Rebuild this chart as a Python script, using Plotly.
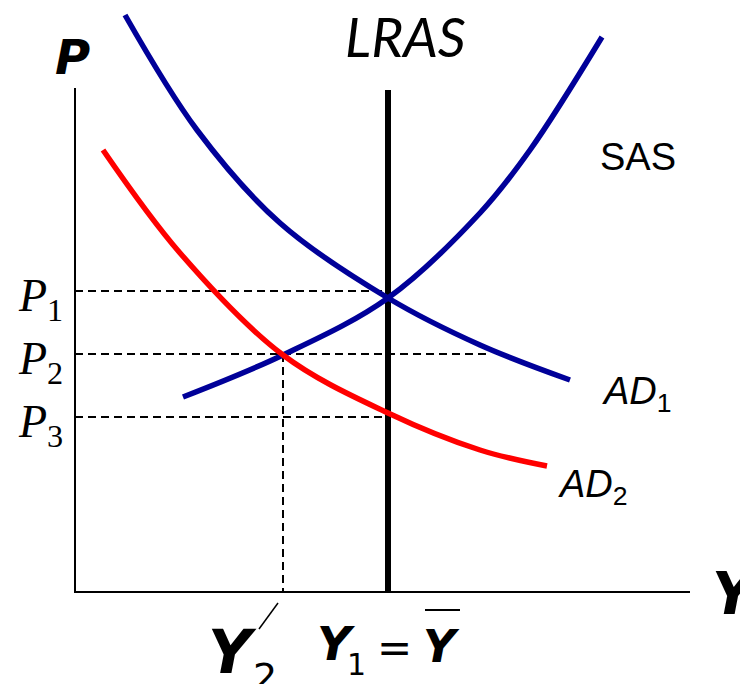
import plotly.graph_objects as go

# curves, in chart units (origin = axis corner)
ad1_x = [50, 122, 205, 313, 405, 495]
ad1_y = [577, 462, 369, 294, 247, 212]
sas_x = [108, 208, 313, 405, 455, 527]
sas_y = [195, 237, 294, 379, 442, 555]
ad2_x = [28, 105, 208, 313, 405, 472]
ad2_y = [442, 339, 237, 179, 142, 126]

y1 = 313          # potential output (LRAS)
y2 = 208
p_levels = [301, 238, 175]
p_labels = ["1", "2", "3"]
p_line_end = [313, 412, 313]
lras_top = 502
x_axis_end = 615
y_axis_top = 504

blue = "#000099"
red = "#ff0000"

fig = go.Figure()

# axes
fig.add_trace(go.Scatter(x=[0, 0, x_axis_end], y=[y_axis_top, 0, 0], mode="lines",
                         line=dict(color="black", width=2)))

# dashed guides
for p, xe in zip(p_levels, p_line_end):
    fig.add_trace(go.Scatter(x=[0, xe], y=[p, p], mode="lines",
                             line=dict(color="black", width=2, dash="8px,5px")))
fig.add_trace(go.Scatter(x=[y2, y2], y=[p_levels[1], 0], mode="lines",
                         line=dict(color="black", width=2, dash="8px,5px")))

# LRAS
fig.add_trace(go.Scatter(x=[y1, y1], y=[0, lras_top], mode="lines",
                         line=dict(color="black", width=6)))

fig.add_trace(go.Scatter(x=ad1_x, y=ad1_y, mode="lines", line=dict(color=blue, width=5.5, shape="spline")))
fig.add_trace(go.Scatter(x=sas_x, y=sas_y, mode="lines", line=dict(color=blue, width=5.5, shape="spline")))
fig.add_trace(go.Scatter(x=ad2_x, y=ad2_y, mode="lines", line=dict(color=red, width=5.5, shape="spline")))

# small slash next to Y2 and bar over Y
fig.add_trace(go.Scatter(x=[203, 184], y=[-11, -37], mode="lines", line=dict(color="black", width=1.5)))
fig.add_trace(go.Scatter(x=[350, 385], y=[-18, -18], mode="lines", line=dict(color="black", width=2)))

bold = "DejaVu Sans"
anns = [
    dict(x=330, y=556, text="<i>LRAS</i>", font=dict(family="Lato", size=55)),
    dict(x=-3, y=535, text="<b><i>P</i></b>", font=dict(family=bold, size=48)),
    dict(x=635, y=-2, text="<b><i>Y</i></b>", font=dict(family=bold, size=58), xanchor="left"),
    dict(x=563, y=435, text="SAS", font=dict(family="Liberation Sans", size=38)),
    dict(x=525, y=198, text="<i>AD</i><sub>1</sub>", font=dict(family="Liberation Sans", size=38), xanchor="left"),
    dict(x=481, y=105, text="<i>AD</i><sub>2</sub>", font=dict(family="Liberation Sans", size=38), xanchor="left"),
    dict(x=157, y=-60, text="<b><i>Y</i></b>", font=dict(family=bold, size=60)),
    dict(x=190, y=-85, text="2", font=dict(family="DejaVu Sans", size=38)),
    dict(x=261, y=-51, text="<b><i>Y</i></b>", font=dict(family=bold, size=47)),
    dict(x=281, y=-72, text="1", font=dict(family="DejaVu Sans", size=30)),
    dict(x=319, y=-55, text="=", font=dict(family="DejaVu Sans", size=42)),
    dict(x=366, y=-54, text="<b><i>Y</i></b>", font=dict(family=bold, size=45)),
]
for p, lab in zip(p_levels, p_labels):
    anns.append(dict(x=-10, y=p - 8, text="<i>P</i><sub>" + lab + "</sub>",
                     font=dict(family="Liberation Serif", size=46), xanchor="right"))
for a in anns:
    a.setdefault("xanchor", "center")
    a.update(showarrow=False, yanchor="middle", xref="x", yref="y")
    a["font"]["color"] = "black"

fig.update_layout(
    width=740, height=676, margin=dict(l=0, r=0, t=0, b=0),
    paper_bgcolor="white", plot_bgcolor="white", showlegend=False,
    xaxis=dict(range=[-67, 673], visible=False, fixedrange=True),
    yaxis=dict(range=[-92, 584], visible=False, fixedrange=True),
    annotations=anns,
)
fig.write_html("out.html")
